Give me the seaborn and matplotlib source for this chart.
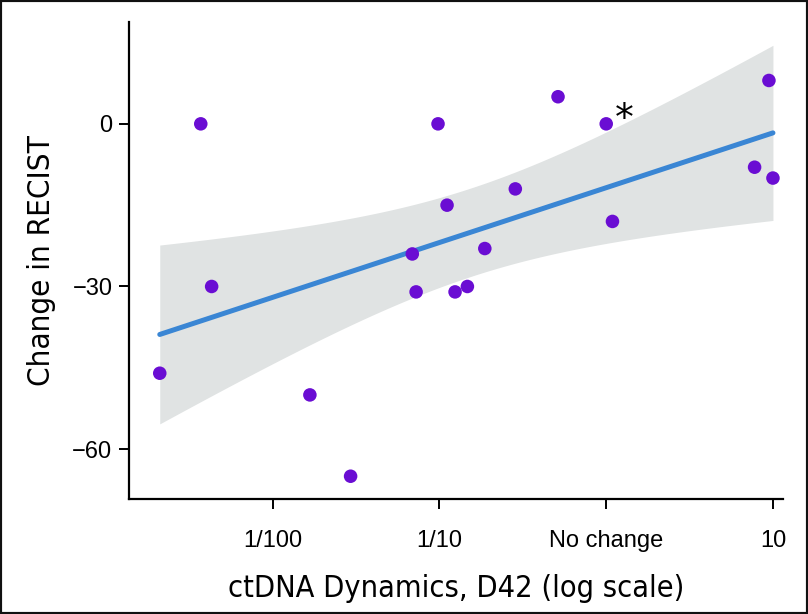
import numpy as np
import pandas as pd
import matplotlib
matplotlib.use("Agg")
import matplotlib.pyplot as plt
import seaborn as sns
from matplotlib.patches import Rectangle

# ctDNA fold change at D42 vs change in RECIST
fold_change = [0.0021, 0.0037, 0.0043, 0.0167, 0.0293, 0.0687, 0.0724, 0.098,
               0.111, 0.124, 0.147, 0.187, 0.285, 0.514, 1.0, 1.09, 7.76, 9.46, 10.0]
recist = [-46, 0, -30, -50, -65, -24, -31, 0, -15, -31, -30, -23, -12, 5, 0, -18, -8, 8, -10]
tick_vals = [0.01, 0.1, 1, 10]
tick_labels = ["1/100", "1/10", "No change", "10"]
starred = 14  # index of the point marked with *

df = pd.DataFrame({"fold": fold_change, "recist": recist})

# linear fit of RECIST on log10(fold change) with 95% confidence band
lx = np.log10(df["fold"].to_numpy())
yv = df["recist"].to_numpy(dtype=float)
n = len(lx)
slope, intercept = np.polyfit(lx, yv, 1)
resid = yv - (intercept + slope * lx)
s_err = np.sqrt(np.sum(resid ** 2) / (n - 2))
try:
    from scipy import stats
    tval = stats.t.ppf(0.975, n - 2)
except ImportError:
    tval = 2.110
grid = np.linspace(lx.min(), lx.max(), 200)
fit = intercept + slope * grid
half = tval * s_err * np.sqrt(1 / n + (grid - lx.mean()) ** 2 / np.sum((lx - lx.mean()) ** 2))
fit_df = pd.DataFrame({"fold": 10 ** grid, "recist": fit})

sns.set_style("white")
plt.rcParams["font.family"] = ["Liberation Sans", "DejaVu Sans"]
plt.rcParams["text.color"] = "black"
plt.rcParams["axes.labelcolor"] = "black"
plt.rcParams["xtick.color"] = "black"
plt.rcParams["ytick.color"] = "black"

fig = plt.figure(figsize=(8.08, 6.14), dpi=100)
ax = fig.add_axes([0.1597, 0.1873, 0.8093, 0.777])

ax.fill_between(10 ** grid, fit - half, fit + half, color="#E0E3E3", lw=0, zorder=1)
sns.lineplot(data=fit_df, x="fold", y="recist", ax=ax, color="#3A86D4", lw=3.6,
             zorder=2)

sns.scatterplot(data=df, x="fold", y="recist", ax=ax, color="#6A0DD3",
                s=95, edgecolor="none", zorder=5)

ax.annotate("*", xy=(fold_change[starred], recist[starred]), xytext=(6, -10),
            textcoords="offset points", fontsize=27, ha="left", va="bottom",
            family=["DejaVu Sans"])

ax.set_xscale("log")
ax.set_xlim(10 ** -2.862, 10 ** 1.06)
ax.set_ylim(-69.2, 18.8)
ax.set_xticks(tick_vals)
ax.set_xticklabels(tick_labels)
ax.minorticks_off()
ax.set_yticks([-60, -30, 0])

sns.despine(ax=ax)
for side in ["left", "bottom"]:
    ax.spines[side].set_linewidth(1.6)
    ax.spines[side].set_color("black")
ax.tick_params(axis="both", which="major", direction="out", length=7, width=1.4,
               color="black", labelsize=17, bottom=True, left=True)
ax.tick_params(axis="x", pad=15)
ax.tick_params(axis="y", pad=5)

ax.set_xlabel("ctDNA Dynamics, D42 (log scale)", fontsize=22, fontstretch="condensed",
              family=["DejaVu Sans"], labelpad=16)
ax.set_ylabel("Change in RECIST", fontsize=22.5, fontstretch="condensed",
              family=["DejaVu Sans"], labelpad=12)

fig.patches.append(Rectangle((0, 0), 1, 1, transform=fig.transFigure,
                             fill=False, edgecolor="#111111", lw=3))

fig.savefig("out.png", dpi=100)
